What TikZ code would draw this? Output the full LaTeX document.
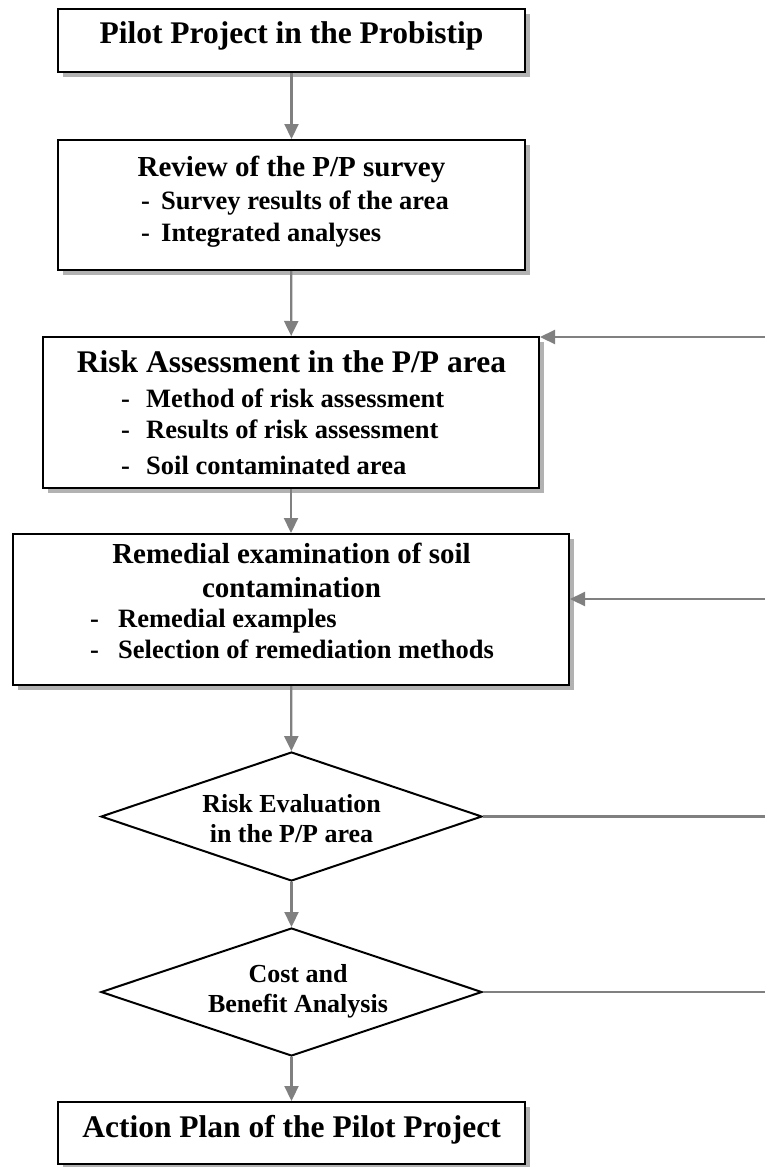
\documentclass[tikz,border=0pt]{standalone}
\usepackage{fontspec}
\setmainfont{Liberation Serif}
\usetikzlibrary{arrows.meta,shapes.geometric,shadows}
\definecolor{linegray}{RGB}{128,128,128}
\definecolor{shadowgray}{RGB}{178,178,178}
\tikzset{
  box/.style={draw=black, line width=2pt, fill=white, inner sep=0pt,
    general shadow={fill=shadowgray, shadow xshift=5pt, shadow yshift=-5pt}},
  dia/.style={diamond, draw=black, line width=2pt, fill=white, inner sep=0pt},
  arr/.style={draw=linegray, line width=2.2pt, -{Triangle[length=15pt,width=14pt]}},
  ln/.style={draw=linegray, line width=2.2pt},
  big/.style={font=\fontsize{31.5}{36}\selectfont\bfseries, anchor=base, inner sep=0pt},
  head/.style={font=\fontsize{29}{33}\selectfont\bfseries, anchor=base, inner sep=0pt},
  item/.style={font=\fontsize{26.5}{30}\selectfont\bfseries, anchor=base west, inner sep=0pt},
  dtext/.style={font=\fontsize{26}{30}\selectfont\bfseries, anchor=base, inner sep=0pt},
}
\begin{document}
\begin{tikzpicture}[x=1pt,y=-1pt]
\useasboundingbox (0,0) rectangle (765,1167);
% boxes
\node[box, minimum width=467pt, minimum height=63pt] (b1) at (291.5,40.5) {};
\node[box, minimum width=467pt, minimum height=130pt] (b2) at (291.5,205) {};
\node[box, minimum width=496pt, minimum height=151pt] (b3) at (291,412.5) {};
\node[box, minimum width=556pt, minimum height=151pt] (b4) at (291,609.5) {};
\node[dia, minimum width=381pt, minimum height=129pt] (d1) at (291.5,816.5) {};
\node[dia, minimum width=381pt, minimum height=128pt] (d2) at (291.5,992) {};
\node[box, minimum width=467pt, minimum height=62pt] (b5) at (291.5,1133) {};
% texts
\node[big] (t1) at (291.5,43) {Pilot Project in the Probistip};
\node[head] (t2) at (291.5,176) {Review of the P/P survey};
\node[item] (t2a) at (141,209) {-};
\node[item] (t2b) at (161,209) {Survey results of the area};
\node[item] (t2c) at (141,241) {-};
\node[item] (t2d) at (161,241) {Integrated analyses};
\node[big] (t3) at (291.5,372) {Risk Assessment in the P/P area};
\node[item] (t3a) at (121,407) {-};
\node[item] (t3b) at (146,407) {Method of risk assessment};
\node[item] (t3c) at (121,438) {-};
\node[item] (t3d) at (146,438) {Results of risk assessment};
\node[item] (t3e) at (121,474) {-};
\node[item] (t3f) at (146,474) {Soil contaminated area};
\node[head] (t4) at (291.5,563) {Remedial examination of soil};
\node[head] (t4b) at (291.5,597) {contamination};
\node[item] (t4c) at (90,627) {-};
\node[item] (t4d) at (118,627) {Remedial examples};
\node[item] (t4e) at (90,658) {-};
\node[item] (t4f) at (118,658) {Selection of remediation methods};
\node[dtext] (t5) at (291.5,812) {Risk Evaluation};
\node[dtext] (t5b) at (291.5,842) {in the P/P area};
\node[dtext] (t6) at (298,982) {Cost and};
\node[dtext] (t6b) at (298,1012) {Benefit Analysis};
\node[big] (t7) at (291.5,1137) {Action Plan of the Pilot Project};
% connectors
\draw[arr] (b1) -- (b2);
\draw[arr] (b2) -- (b3);
\draw[arr] (b3) -- (b4);
\draw[arr] (b4) -- (d1);
\draw[arr] (d1) -- (d2);
\draw[arr] (d2) -- (b5);
\coordinate (r1) at (765,337);
\coordinate (r2) at (765,599);
\coordinate (r3) at (765,816.5);
\coordinate (r4) at (765,992);
\draw[arr] (r1) -- (b3.east |- r1);
\draw[arr] (r2) -- (b4.east |- r2);
\draw[ln] (d1.east) -- (r3);
\draw[ln] (d2.east) -- (r4);
\end{tikzpicture}
\end{document}
